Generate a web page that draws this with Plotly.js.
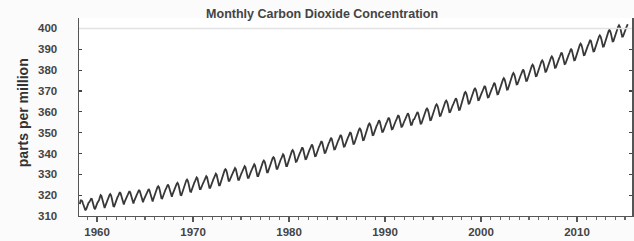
<!DOCTYPE html>
<html>
<head>
<meta charset="utf-8">
<script src="https://cdn.plot.ly/plotly-3.0.1.min.js"></script>
<style>html,body{margin:0;padding:0;background:#fbfbfb;}#chart{width:634px;height:241px;}</style>
</head>
<body>
<div id="chart"></div>
<script>
// Monthly CO2 (ppm), first value = March 1958
var startYear = 1958;
var startMonth = 3;
var co2_1958_1969 = [
315.7,317.5,317.5,317.1,315.9,314.9,313.2,312.7,313.3,314.7,
315.6,316.4,316.7,317.7,318.3,318.2,316.5,314.8,313.8,313.3,314.8,315.6,
316.4,317.0,317.6,319.0,320.0,319.6,318.2,315.9,314.2,313.8,315.0,316.2,
317.2,318.0,318.8,320.0,320.5,319.9,318.4,316.4,314.7,314.6,315.9,317.1,
318.0,318.9,319.7,320.9,321.4,320.8,319.3,317.3,315.6,315.5,316.8,318.0,
318.6,319.4,320.2,321.4,321.9,321.3,319.8,317.8,316.1,316.0,317.3,318.5,
319.2,320.0,320.8,322.0,322.5,321.9,320.4,318.4,316.7,316.6,317.9,319.1,
319.6,320.4,321.2,322.4,322.9,322.3,320.8,318.8,317.1,317.0,318.3,319.5,
321.0,321.8,322.6,323.8,324.3,323.7,322.2,320.2,318.5,318.4,319.7,320.9,
321.8,322.6,323.4,324.6,325.1,324.5,323.0,321.0,319.3,319.2,320.5,321.7,
322.6,323.4,324.2,325.4,325.9,325.3,323.8,321.8,320.1,320.0,321.3,322.5,
324.2,325.0,325.8,327.0,327.5,326.9,325.4,323.4,321.7,321.6,322.9,324.1
];
var co2_1970s = [
325.1,325.9,326.7,328.0,328.5,328.0,326.6,324.6,322.9,322.9,324.2,325.4,
325.7,326.5,327.3,328.6,329.1,328.6,327.2,325.2,323.5,323.5,324.8,326.0,
326.9,327.7,328.5,329.8,330.3,329.8,328.4,326.4,324.7,324.7,326.0,327.2,
329.1,329.9,330.7,332.0,332.5,332.0,330.6,328.6,326.9,326.9,328.2,329.4,
329.6,330.4,331.2,332.5,333.0,332.5,331.1,329.1,327.4,327.4,328.7,329.9,
330.5,331.3,332.1,333.4,333.9,333.4,332.0,330.0,328.3,328.3,329.6,330.8,
331.4,332.2,333.0,334.3,334.8,334.3,332.9,330.9,329.2,329.2,330.5,331.7,
333.2,334.0,334.8,336.1,336.6,336.1,334.7,332.7,331.0,331.0,332.3,333.5,
334.8,335.6,336.4,337.7,338.2,337.7,336.3,334.3,332.6,332.6,333.9,335.1,
336.2,337.0,337.8,339.1,339.6,339.1,337.7,335.7,334.0,334.0,335.3,336.5
];
var co2_1980s = [
338.1,338.9,339.7,341.1,341.6,341.0,339.7,337.7,336.0,336.1,337.4,338.6,
339.4,340.2,341.0,342.4,342.9,342.3,341.0,339.0,337.3,337.4,338.7,339.9,
340.8,341.6,342.4,343.8,344.3,343.7,342.4,340.4,338.7,338.8,340.1,341.3,
342.4,343.2,344.0,345.4,345.9,345.3,344.0,342.0,340.3,340.4,341.7,342.9,
344.0,344.8,345.6,347.0,347.5,346.9,345.6,343.6,341.9,342.0,343.3,344.5,
345.4,346.2,347.0,348.4,348.9,348.3,347.0,345.0,343.3,343.4,344.7,345.9,
346.7,347.5,348.3,349.7,350.2,349.6,348.3,346.3,344.6,344.7,346.0,347.2,
348.5,349.3,350.1,351.5,352.0,351.4,350.1,348.1,346.4,346.5,347.8,349.0,
350.9,351.7,352.5,353.9,354.4,353.8,352.5,350.5,348.8,348.9,350.2,351.4,
352.4,353.2,354.0,355.4,355.9,355.3,354.0,352.0,350.3,350.4,351.7,352.9
];
var co2_1990s = [
353.7,354.5,355.3,356.7,357.2,356.6,355.3,353.3,351.6,351.7,353.0,354.2,
354.9,355.7,356.5,357.9,358.4,357.8,356.5,354.5,352.8,352.9,354.2,355.4,
355.8,356.6,357.4,358.8,359.3,358.7,357.4,355.4,353.7,353.8,355.1,356.3,
356.4,357.2,358.0,359.4,359.9,359.3,358.0,356.0,354.3,354.4,355.7,356.9,
358.1,358.9,359.7,361.1,361.6,361.0,359.7,357.7,356.0,356.1,357.4,358.6,
360.1,360.9,361.7,363.1,363.6,363.0,361.7,359.7,358.0,358.1,359.4,360.6,
361.9,362.7,363.5,364.9,365.4,364.8,363.5,361.5,359.8,359.9,361.2,362.4,
363.0,363.8,364.6,366.0,366.5,365.9,364.6,362.6,360.9,361.0,362.3,363.5,
366.0,366.8,367.6,369.0,369.5,368.9,367.6,365.6,363.9,364.0,365.3,366.5,
367.7,368.5,369.3,370.7,371.2,370.6,369.3,367.3,365.6,365.7,367.0,368.2
];
var co2_2000s = [
368.7,369.5,370.4,371.8,372.4,371.8,370.5,368.6,366.9,367.0,368.3,369.6,
370.2,371.0,371.9,373.3,373.9,373.3,372.0,370.1,368.4,368.5,369.8,371.1,
372.4,373.2,374.1,375.5,376.1,375.5,374.2,372.3,370.6,370.7,372.0,373.3,
374.9,375.7,376.6,378.0,378.6,378.0,376.7,374.8,373.1,373.2,374.5,375.8,
376.6,377.4,378.3,379.7,380.3,379.7,378.4,376.5,374.8,374.9,376.2,377.5,
378.9,379.7,380.6,382.0,382.6,382.0,380.7,378.8,377.1,377.2,378.5,379.8,
381.0,381.8,382.7,384.1,384.7,384.1,382.8,380.9,379.2,379.3,380.6,381.9,
382.9,383.7,384.6,386.0,386.6,386.0,384.7,382.8,381.1,381.2,382.5,383.8,
384.7,385.5,386.4,387.8,388.4,387.8,386.5,384.6,382.9,383.0,384.3,385.6,
386.5,387.3,388.2,389.6,390.2,389.6,388.3,386.4,384.7,384.8,386.1,387.4
];
var co2_2010s = [
389.0,389.8,390.7,392.1,392.7,392.1,390.8,388.9,387.2,387.3,388.6,389.9,
390.8,391.6,392.5,393.9,394.5,393.9,392.6,390.7,389.0,389.1,390.4,391.7,
393.0,393.8,394.7,396.1,396.7,396.1,394.8,392.9,391.2,391.3,392.6,393.9,
395.6,396.4,397.3,398.7,399.3,398.7,397.4,395.5,393.8,393.9,395.2,396.5,
397.8,398.6,399.5,400.9,401.5,400.9,399.6,397.7,396.0,396.1,397.4,398.7,
399.9,400.3,401.2,402.0
];
var xTickVals = [1960, 1970, 1980, 1990, 2000, 2010];
var xTickText = ['1960', '1970', '1980', '1990', '2000', '2010'];
var yTickVals = [310, 320, 330, 340, 350, 360, 370, 380, 390, 400];

var co2 = [].concat(co2_1958_1969, co2_1970s, co2_1980s, co2_1990s, co2_2000s, co2_2010s);
var dates = co2.map(function (v, i) {
  return startYear + (startMonth - 1 + i + 0.5) / 12;
});

var font = 'Liberation Sans, Arial, sans-serif';
var trace = {
  x: dates, y: co2, type: 'scatter', mode: 'lines',
  line: {color: '#383838', width: 1.8},
  hoverinfo: 'x+y'
};
var layout = {
  width: 634, height: 241,
  margin: {l: 79, r: 2, t: 18, b: 25},
  paper_bgcolor: '#fbfbfb', plot_bgcolor: '#ffffff',
  showlegend: false,
  title: {text: '<b>Monthly Carbon Dioxide Concentration</b>', x: 0.508, xanchor: 'center', y: 0.945, yanchor: 'middle',
          font: {family: font, size: 12.5, color: '#444444'}},
  xaxis: {
    range: [1958.12, 2015.73], tickmode: 'array', tickvals: xTickVals, ticktext: xTickText,
    ticks: 'outside', ticklen: 5, tickwidth: 1.3, tickcolor: '#555555',
    minor: {dtick: 1, ticks: 'outside', ticklen: 3, tickwidth: 1.2, tickcolor: '#666666', showgrid: false},
    showline: true, linecolor: '#555555', linewidth: 1.3, mirror: false,
    showgrid: false, zeroline: false,
    tickfont: {family: font, size: 11.5, color: '#444444', weight: 'bold'}
  },
  yaxis: {
    range: [310, 405], tickmode: 'array', tickvals: yTickVals,
    ticks: 'inside', ticklen: 3, tickwidth: 1.2, tickcolor: '#444444',
    showline: true, linecolor: '#555555', linewidth: 1.5, mirror: 'ticks',
    showgrid: false, zeroline: false, ticklabelstandoff: 18,
    tickfont: {family: font, size: 11.5, color: '#444444', weight: 'bold'}
  },
  shapes: [{type: 'line', xref: 'paper', x0: 0, x1: 1, yref: 'y', y0: 400, y1: 400,
            line: {color: '#e2e2e2', width: 1.5}}],
  annotations: [{text: '<b>parts per million</b>', xref: 'paper', yref: 'paper', x: -0.101, y: 0.52,
                 xanchor: 'center', yanchor: 'middle', textangle: -90, showarrow: false,
                 font: {family: font, size: 14, color: '#333333'}}]
};
Plotly.newPlot('chart', [trace], layout, {displayModeBar: false, staticPlot: true});
</script>
</body>
</html>
